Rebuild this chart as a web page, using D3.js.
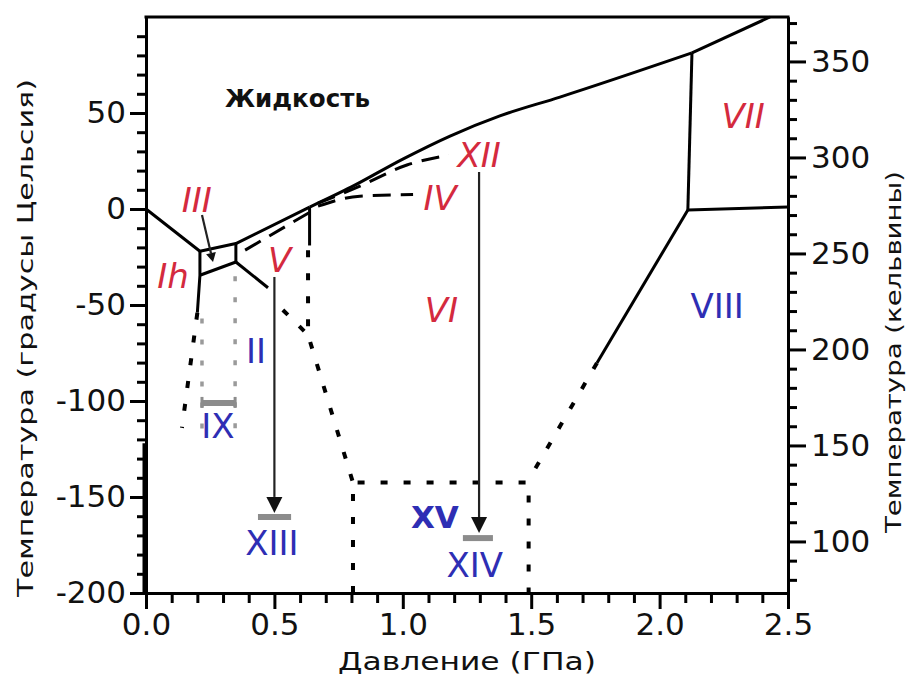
<!DOCTYPE html>
<html><head><meta charset="utf-8">
<script src="https://cdn.jsdelivr.net/npm/d3@7"></script>
<style>body{margin:0;background:#fff}</style>
</head><body><svg id="c" width="908" height="680"></svg>
<script>
// ---------- data ----------
const pressureDomain = [0, 2.5];
const celsiusDomain = [-200, 100];
const xMajor = [0, 0.5, 1, 1.5, 2, 2.5];
const xTickLabels = ["0.0", "0.5", "1.0", "1.5", "2.0", "2.5"];
const yMajor = [-200, -150, -100, -50, 0, 50];
const yTickLabels = ["-200", "-150", "-100", "-50", "0", "50"];
const kMajor = [100, 150, 200, 250, 300, 350];
const kTickLabels = ["100", "150", "200", "250", "300", "350"];

// phase boundaries: [pressure GPa, temperature °C]
const liquidusLow = [[0,0],[0.21,-22],[0.35,-18],[0.637,1]];
const liquidusHigh = [[0.637,1],[0.8,11.5],[1.0,26],[1.184,38],[1.378,48.5],[1.612,58.3],[2.126,81.3]];
const liquidusVII = [[2.126,81.3],[2.43,100]];
const ihIII = [[0.21,-22],[0.21,-34.5],[0.2,-54]];
const iiiII = [[0.21,-34.5],[0.35,-27.6]];
const iiiV = [[0.35,-18],[0.35,-27.6]];
const iiV = [[0.35,-27.6],[0.475,-41]];
const vVI = [[0.637,1],[0.637,-19]];
const viVII = [[2.126,81.3],[2.11,-0.5]];
const viiVIII = [[2.11,-0.5],[2.5,1]];
const viVIII = [[2.11,-0.5],[1.756,-80.2]];

const dottedLines = [
  [[0.2,-54],[0.14,-114]],
  [[0.533,-52.6],[0.631,-65.6]],
  [[0.631,-21.5],[0.631,-65.6],[0.806,-142.5]],
  [[1.756,-80.2],[1.495,-140]],
  [[0.806,-200],[0.806,-142.5],[1.49,-142.5],[1.49,-200]]
];
const grayDotted = [
  [[0.218,-57],[0.218,-120]],
  [[0.347,-35],[0.347,-120]]
];
const dashedMeta = [
  [[0.386,-21.4],[0.639,-1.6]],
  [[0.67,1.5],[0.833,6.7],[1.04,7.5]],
  [[0.67,3],[0.833,11.9],[1.016,22.9],[1.18,28]]
];
// arrows: from -> to
const arrows = [
  {from:[0.5,-35.4], to:[0.5,-158.3], head:16, w:8},
  {from:[1.297,19.3], to:[1.297,-168.8], head:16, w:8},
  {from:[0.218,-3.1], to:[0.261,-27.6], head:9, w:5}
];
// metastable ice bars: [p1, p2], T
const bars = [
  {p:[0.218,0.347], t:-101, caps:true},
  {p:[0.436,0.565], t:-160.4, caps:false},
  {p:[1.234,1.351], t:-171.4, caps:false}
];
// phase labels: text, P (centre), T (baseline), colour
const phaseLabels = [
  {text:"III", p:0.198, t:-1.6, c:"red"},
  {text:"Ih", p:0.105, t:-41, c:"red"},
  {text:"V", p:0.52, t:-32.8, c:"red"},
  {text:"II", p:0.428, t:-80.2, c:"blue"},
  {text:"IX", p:0.28, t:-119.3, c:"blue"},
  {text:"XIII", p:0.49, t:-180.2, c:"blue"},
  {text:"VI", p:1.15, t:-58.9, c:"red"},
  {text:"IV", p:1.145, t:-0.5, c:"red"},
  {text:"XII", p:1.297, t:21.9, c:"red"},
  {text:"VII", p:2.325, t:42.2, c:"red"},
  {text:"VIII", p:2.224, t:-56.8, c:"blue"},
  {text:"XV", p:1.125, t:-166.1, c:"blueBold"},
  {text:"XIV", p:1.28, t:-191.7, c:"blue"}
];

// ---------- drawing ----------
const svg = d3.select("#c");
const L = 146, R = 788, T = 17, B = 593;
const x = d3.scaleLinear().domain(pressureDomain).range([L, R]);
const y = d3.scaleLinear().domain(celsiusDomain).range([B, T]);
const yK = d3.scaleLinear().domain([celsiusDomain[0] + 273.15, celsiusDomain[1] + 273.15]).range([B, T]);
const line = d3.line().x(d => x(d[0])).y(d => y(d[1]));
const smooth = d3.line().x(d => x(d[0])).y(d => y(d[1])).curve(d3.curveMonotoneX);

const RED = "#d42a3e", BLUE = "#2e2eb4";
const tickFont = "DejaVu Sans, sans-serif";

function styleAxis(g) {
  g.select(".domain").attr("stroke", "#000").attr("stroke-width", 3);
  g.selectAll(".tick line").attr("stroke", "#000").attr("stroke-width", 3);
  g.selectAll("text").attr("font-family", tickFont).attr("font-size", 31).attr("fill", "#111");
}

// minor ticks
const xMinor = d3.range(0, 2.5001, 0.1).filter(v => Math.abs(v*2 - Math.round(v*2)) > 1e-6);
const yMinor = d3.range(-190, 91, 10).filter(v => v % 50 !== 0);
const kMinor = d3.range(80, 371, 10).filter(v => v % 50 !== 0);

svg.append("g").attr("transform", `translate(0,${B})`)
  .call(d3.axisBottom(x).tickValues(xMinor).tickSize(10).tickFormat("").tickSizeOuter(0)).call(styleAxis);
svg.append("g").attr("transform", `translate(0,${B})`)
  .call(d3.axisBottom(x).tickValues(xMajor).tickSize(16).tickPadding(4).tickSizeOuter(0)
    .tickFormat((d,i) => xTickLabels[i])).call(styleAxis);

svg.append("g").attr("transform", `translate(${L},0)`)
  .call(d3.axisLeft(y).tickValues(yMinor).tickSize(9).tickFormat("").tickSizeOuter(0)).call(styleAxis);
svg.append("g").attr("transform", `translate(${L},0)`)
  .call(d3.axisLeft(y).tickValues(yMajor).tickSize(16).tickPadding(4).tickSizeOuter(0)
    .tickFormat((d,i) => yTickLabels[i])).call(styleAxis);

svg.append("g").attr("transform", `translate(${R},0)`)
  .call(d3.axisRight(yK).tickValues(kMinor).tickSize(9).tickFormat("").tickSizeOuter(0)).call(styleAxis);
svg.append("g").attr("transform", `translate(${R},0)`)
  .call(d3.axisRight(yK).tickValues(kMajor).tickSize(18).tickPadding(5).tickSizeOuter(0)
    .tickFormat((d,i) => kTickLabels[i])).call(styleAxis);

// top frame
svg.append("line").attr("x1", L - 1.5).attr("x2", R + 1.5).attr("y1", T).attr("y2", T)
  .attr("stroke", "#000").attr("stroke-width", 3);
// thick lower segment of left axis
svg.append("line").attr("x1", L - 1).attr("x2", L - 1).attr("y1", y(-122)).attr("y2", B)
  .attr("stroke", "#000").attr("stroke-width", 5);

const plot = svg.append("g");

// gray dotted guides
grayDotted.forEach(d => plot.append("path").attr("d", line(d)).attr("fill", "none")
  .attr("stroke", "#9a9a9a").attr("stroke-width", 3.5).attr("stroke-dasharray", "5,16"));

// solid boundaries
[liquidusLow, liquidusVII, ihIII, iiiII, iiiV, iiV, vVI, viVII, viiVIII, viVIII].forEach(d =>
  plot.append("path").attr("d", line(d)).attr("fill", "none")
    .attr("stroke", "#000").attr("stroke-width", 3).attr("stroke-linejoin", "round"));
plot.append("path").attr("d", smooth(liquidusHigh)).attr("fill", "none")
  .attr("stroke", "#000").attr("stroke-width", 3);

// dotted boundaries
dottedLines.forEach(d => plot.append("path").attr("d", line(d)).attr("fill", "none")
  .attr("stroke", "#000").attr("stroke-width", 4).attr("stroke-dasharray", "7,16"));

// dashed metastable boundaries
dashedMeta.forEach(d => plot.append("path").attr("d", smooth(d)).attr("fill", "none")
  .attr("stroke", "#000").attr("stroke-width", 3).attr("stroke-dasharray", "18,10"));

// bars
bars.forEach(b => {
  plot.append("line").attr("x1", x(b.p[0])).attr("x2", x(b.p[1])).attr("y1", y(b.t)).attr("y2", y(b.t))
    .attr("stroke", "#8c8c8c").attr("stroke-width", 6);
  if (b.caps) {
    b.p.forEach(pp => plot.append("line").attr("x1", x(pp)).attr("x2", x(pp))
      .attr("y1", y(b.t) - 6).attr("y2", y(b.t) + 5).attr("stroke", "#8c8c8c").attr("stroke-width", 3));
  }
});

// arrows
arrows.forEach(a => {
  const x1 = x(a.from[0]), y1 = y(a.from[1]), x2 = x(a.to[0]), y2 = y(a.to[1]);
  const dx = x2 - x1, dy = y2 - y1, len = Math.hypot(dx, dy), ux = dx/len, uy = dy/len;
  const bx = x2 - ux*a.head, by = y2 - uy*a.head;
  plot.append("line").attr("x1", x1).attr("y1", y1).attr("x2", bx).attr("y2", by)
    .attr("stroke", "#222").attr("stroke-width", 2.2);
  plot.append("path").attr("d", `M${x2},${y2}L${bx - uy*a.w},${by + ux*a.w}L${bx + uy*a.w},${by - ux*a.w}Z`)
    .attr("fill", "#111");
});

// phase labels
phaseLabels.forEach(l => {
  plot.append("text").attr("x", x(l.p)).attr("y", y(l.t)).attr("text-anchor", "middle")
    .attr("font-family", "DejaVu Sans, sans-serif").attr("font-size", l.c === "blueBold" ? 31 : 34)
    .attr("font-style", l.c === "red" ? "italic" : "normal")
    .attr("font-weight", l.c === "blueBold" ? "bold" : "normal")
    .attr("fill", l.c === "red" ? RED : BLUE).text(l.text);
});

// liquid label
plot.append("text").attr("x", 225).attr("y", 107).attr("font-family", "DejaVu Sans, sans-serif")
  .attr("font-size", 25).attr("font-weight", "bold").attr("fill", "#111")
  .attr("textLength", 145).attr("lengthAdjust", "spacingAndGlyphs").text("Жидкость");

// axis titles
svg.append("text").attr("x", (L + R) / 2).attr("y", 670).attr("text-anchor", "middle")
  .attr("font-family", "DejaVu Sans, sans-serif").attr("font-size", 25).attr("fill", "#111")
  .attr("textLength", 258).attr("lengthAdjust", "spacingAndGlyphs").text("Давление (ГПа)");
svg.append("text").attr("transform", "translate(33,338) rotate(-90)").attr("text-anchor", "middle")
  .attr("font-family", "DejaVu Sans, sans-serif").attr("font-size", 22).attr("fill", "#111")
  .attr("textLength", 518).attr("lengthAdjust", "spacingAndGlyphs").text("Температура (градусы Цельсия)");
svg.append("text").attr("transform", "translate(901,352) rotate(-90)").attr("text-anchor", "middle")
  .attr("font-family", "DejaVu Sans, sans-serif").attr("font-size", 22).attr("fill", "#111")
  .attr("textLength", 362).attr("lengthAdjust", "spacingAndGlyphs").text("Температура (кельвины)");
</script></body></html>
